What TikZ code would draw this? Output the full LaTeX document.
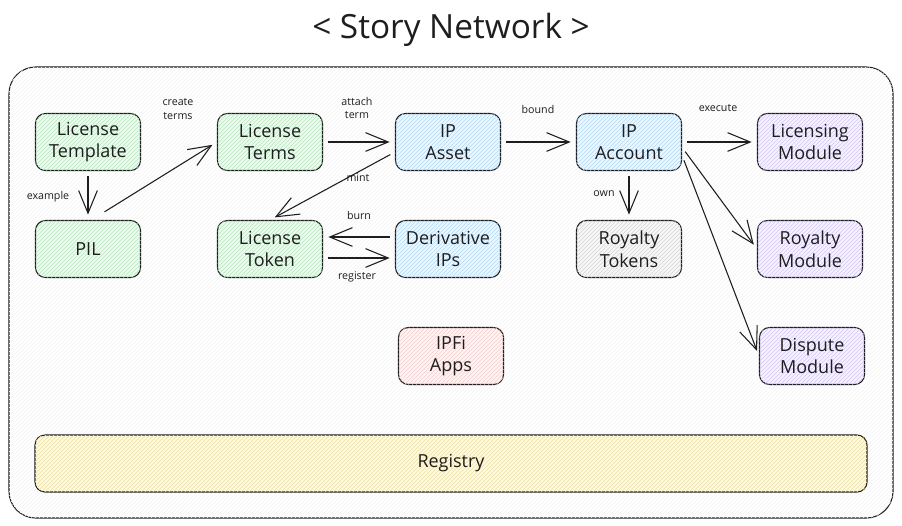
\documentclass[tikz,border=0pt]{standalone}
\usepackage{fontspec}
\setmainfont{Open Sans}
\usepackage{tikz}
\usetikzlibrary{arrows.meta,patterns,positioning}
\definecolor{ink}{HTML}{1E1E1E}
\definecolor{greenbg}{HTML}{EEFAF0}
\definecolor{greenhatch}{HTML}{B8E6C0}
\definecolor{bluebg}{HTML}{EDF6FD}
\definecolor{bluehatch}{HTML}{B3DBF8}
\definecolor{purplebg}{HTML}{F5F2FE}
\definecolor{purplehatch}{HTML}{D3C8F5}
\definecolor{graybg}{HTML}{F7F7F7}
\definecolor{grayhatch}{HTML}{D4D4D4}
\definecolor{redbg}{HTML}{FDF4F4}
\definecolor{redhatch}{HTML}{F5CDCD}
\definecolor{yellowbg}{HTML}{FDF9E2}
\definecolor{yellowhatch}{HTML}{EEE1A2}
\tikzset{box/.style={draw=ink, rounded corners=7.5pt, line width=0.8pt,
		minimum width=78.75pt, minimum height=42.75pt, align=center,
		text=ink, font=\fontsize{13.5}{17}\selectfont},
	greenbox/.style={box, fill=greenbg, postaction={pattern=north east lines, pattern color=greenhatch}},
	bluebox/.style={box, fill=bluebg, postaction={pattern=north east lines, pattern color=bluehatch}},
	purplebox/.style={box, fill=purplebg, postaction={pattern=north east lines, pattern color=purplehatch}},
	graybox/.style={box, fill=graybg, postaction={pattern=north east lines, pattern color=grayhatch}},
	redbox/.style={box, fill=redbg, postaction={pattern=north east lines, pattern color=redhatch}},
	yellowbox/.style={box, fill=yellowbg, postaction={pattern=north east lines, pattern color=yellowhatch}},
	lbl/.style={text=ink, align=center, font=\fontsize{8}{10}\selectfont},
	arr/.style={draw=ink, line width=0.8pt, -{Straight Barb[length=17pt,width=14pt]},
		shorten >=4pt, shorten <=4pt}}

\begin{document}
\begin{tikzpicture}[x=0.75pt,y=-0.75pt]
		\useasboundingbox (0,0) rectangle (902,525);
		\node[text=ink, font=\fontsize{25}{30}\selectfont](title)at(451,30){< Story Network >};
		\path[draw=ink, line width=0.8pt, rounded corners=20pt, fill=white,
			postaction={pattern=north east lines, pattern color=gray!9}]
			(9,67) rectangle (893,518);
		
		\node[greenbox](tmpl)at(88,142){License\\Template};
		\node[greenbox](lterm)at(270,142){License\\Terms};
		\node[bluebox](ipa)at(448,142){IP\\Asset};
		\node[bluebox](ipacc)at(629,142){IP\\Account};
		\node[purplebox](licmod)at(810,142){Licensing\\Module};
		
		\node[greenbox](pil)at(88,249){PIL};
		\node[greenbox](ltok)at(270,249){License\\Token};
		\node[bluebox](deriv)at(448,249){Derivative\\IPs};
		\node[graybox](roytok)at(629,249){Royalty\\Tokens};
		\node[purplebox](roymod)at(810,249){Royalty\\Module};
		
		\node[redbox](ipfi)at(451,356){IPFi\\Apps};
		\node[purplebox](dispmod)at(812,356){Dispute\\Module};
		
		\node[yellowbox, minimum width=624pt](reg)at(451,463.5){Registry};
		
		\node[lbl](lexample)at(48,197){example};
		\node[lbl](lcreate)at(178,109){create\\terms};
		\node[lbl](lattach)at(357,108){attach\\term};
		\node[lbl](lmint)at(358,178){mint};
		\node[lbl](lburn)at(359,215){burn};
		\node[lbl](lregister)at(357,277){register};
		\node[lbl](lbound)at(538,109){bound};
		\node[lbl](lexecute)at(718,108){execute};
		\node[lbl](lown)at(604,194){own};
		
		\draw[arr](tmpl)--(pil);
		\draw[arr]([xshift=9pt,yshift=4pt]pil.north)--(lterm.west);
		\draw[arr](lterm)--(ipa);
		\draw[arr]([yshift=-7.5pt]ipa.west)--(ltok.north);
		\draw[arr]([yshift=9pt]deriv.west)--([yshift=9pt]ltok.east);
		\draw[arr]([yshift=-6.75pt]ltok.east)--([yshift=-6.75pt]deriv.west);
		\draw[arr](ipa)--(ipacc);
		\draw[arr](ipacc)--(licmod);
		\draw[arr](ipacc)--(roytok);
		\draw[arr]([yshift=-4pt]ipacc.east)--(roymod.west);
		\draw[arr]([yshift=-10pt]ipacc.east)--(dispmod.west);
	\end{tikzpicture}
\end{document}
